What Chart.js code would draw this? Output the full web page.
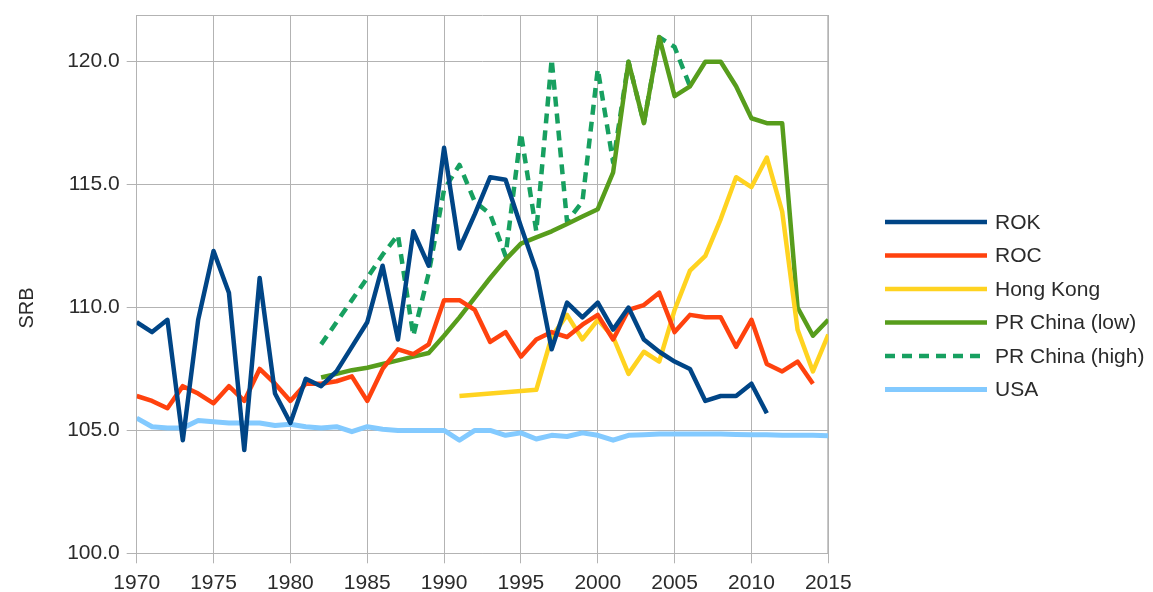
<!DOCTYPE html>
<html lang="en">
<head>
<meta charset="UTF-8">
<title>SRB</title>
<script src="https://cdn.jsdelivr.net/npm/chart.js"></script>
<style>
    body { margin: 0; padding: 0; background: #fff; }
    #wrap { width: 1153px; height: 592px; }
</style>
</head>
<body>
<div id="wrap"><canvas id="srbChart" width="1153" height="592"></canvas></div>
<script>
    const years = [1970, 1971, 1972, 1973, 1974, 1975, 1976, 1977, 1978, 1979,
                   1980, 1981, 1982, 1983, 1984, 1985, 1986, 1987, 1988, 1989,
                   1990, 1991, 1992, 1993, 1994, 1995, 1996, 1997, 1998, 1999,
                   2000, 2001, 2002, 2003, 2004, 2005, 2006, 2007, 2008, 2009,
                   2010, 2011, 2012, 2013, 2014, 2015];

    const rok = [109.4, 109.0, 109.5, 104.6, 109.5, 112.3, 110.6, 104.2, 111.2, 106.5,
                 105.3, 107.1, 106.8, 107.4, 108.4, 109.4, 111.7, 108.7, 113.1, 111.7,
                 116.5, 112.4, 113.8, 115.3, 115.2, 113.3, 111.5, 108.3, 110.2, 109.6,
                 110.2, 109.1, 110.0, 108.7, 108.2, 107.8, 107.5, 106.2, 106.4, 106.4,
                 106.9, 105.7, null, null, null, null];

    const roc = [106.4, 106.2, 105.9, 106.8, 106.5, 106.1, 106.8, 106.2, 107.5, 106.9,
                 106.2, 106.9, 106.9, 107.0, 107.2, 106.2, 107.5, 108.3, 108.1, 108.5,
                 110.3, 110.3, 109.9, 108.6, 109.0, 108.0, 108.7, 109.0, 108.8, 109.3,
                 109.7, 108.7, 109.9, 110.1, 110.6, 109.0, 109.7, 109.6, 109.6, 108.4,
                 109.5, 107.7, 107.4, 107.8, 106.9, null];

    const hongKong = [null, null, null, null, null, null, null, null, null, null,
                      null, null, null, null, null, null, null, null, null, null,
                      null, 106.4, null, null, null, null, 106.65, 108.8, 109.7, 108.7,
                      109.5, 108.8, 107.3, 108.2, 107.8, 109.9, 111.5, 112.1, 113.6, 115.3,
                      114.9, 116.1, 113.9, 109.1, 107.4, 108.9];

    const chinaLow = [null, null, null, null, null, null, null, null, null, null,
                      null, null, 107.15, 107.3, 107.45, 107.55, 107.7, 107.85, 108.0, 108.15,
                      108.85, 109.6, 110.4, 111.2, 111.95, 112.6, 112.85, 113.1, 113.4, 113.7,
                      114.0, 115.5, 120.0, 117.5, 121.0, 118.6, 119.0, 120.0, 120.0, 119.0,
                      117.7, 117.5, 117.5, 110.0, 108.85, 109.5];

    const chinaHigh = [null, null, null, null, null, null, null, null, null, null,
                       null, null, 108.5, 109.4, 110.3, 111.2, 112.15, 112.95, 108.85, 111.4,
                       114.8, 115.8, 114.3, 113.8, 112.1, 117.1, 113.1, 120.1, 113.5, 114.3,
                       119.7, 115.9, 120.0, 117.5, 121.0, 120.6, 119.0, null, null, null,
                       null, null, null, null, null, null];

    const usa = [105.5, 105.15, 105.1, 105.1, 105.4, 105.35, 105.3, 105.3, 105.3, 105.2,
                 105.25, 105.15, 105.1, 105.15, 104.95, 105.15, 105.05, 105.0, 105.0, 105.0,
                 105.0, 104.6, 105.0, 105.0, 104.8, 104.9, 104.65, 104.8, 104.75, 104.9,
                 104.8, 104.6, 104.8, 104.82, 104.85, 104.85, 104.85, 104.85, 104.85, 104.83,
                 104.82, 104.82, 104.8, 104.8, 104.8, 104.78];

    const yTicks = [100, 105, 110, 115, 120];

    const FONT = '"Liberation Sans", Arial, sans-serif';
    const TEXT = '#2b2b2b';
    const GRID = '#b3b3b3';

    const toPoints = arr => arr.map((v, i) => ({ x: years[i], y: v }));

    function series(label, values, color, extra) {
        return Object.assign({
            label: label,
            data: toPoints(values),
            borderColor: color,
            backgroundColor: color,
            borderWidth: 4.5,
            pointRadius: 0,
            pointHoverRadius: 0,
            tension: 0,
            fill: false,
            borderJoinStyle: 'round',
            spanGaps: false
        }, extra || {});
    }

    // legend + axis title + frame, drawn at fixed spots
    const extras = {
        id: 'extras',
        beforeDatasetsDraw(chart) {
            const { ctx, chartArea: a } = chart;
            ctx.save();
            ctx.strokeStyle = GRID;
            ctx.lineWidth = 1;
            ctx.beginPath();
            ctx.moveTo(a.left, a.top + 0.5);
            ctx.lineTo(a.right, a.top + 0.5);
            ctx.moveTo(a.right - 0.5, a.top);
            ctx.lineTo(a.right - 0.5, a.bottom);
            ctx.stroke();
            ctx.restore();
        },
        afterDraw(chart) {
            const ctx = chart.ctx;
            ctx.save();
            ctx.font = '21px ' + FONT;
            ctx.fillStyle = TEXT;
            ctx.textBaseline = 'middle';
            chart.data.datasets.forEach((ds, i) => {
                const y = 222 + i * 33.5;
                ctx.beginPath();
                ctx.strokeStyle = ds.borderColor;
                ctx.lineWidth = ds.borderWidth;
                ctx.setLineDash(ds.borderDash || []);
                ctx.moveTo(885, y);
                ctx.lineTo(987, y);
                ctx.stroke();
                ctx.setLineDash([]);
                ctx.textAlign = 'left';
                ctx.fillText(ds.label, 995, y + 1);
            });
            ctx.translate(27, 308);
            ctx.rotate(-Math.PI / 2);
            ctx.textAlign = 'center';
            ctx.font = '20px ' + FONT;
            ctx.fillText('SRB', 0, 0);
            ctx.restore();
        }
    };

    new Chart(document.getElementById('srbChart'), {
        type: 'line',
        data: {
            datasets: [
                series('ROK', rok, '#004586'),
                series('ROC', roc, '#ff420e'),
                series('Hong Kong', hongKong, '#ffd320', { spanGaps: true }),
                series('PR China (low)', chinaLow, '#579d1c'),
                series('PR China (high)', chinaHigh, '#17a060', { borderDash: [10, 7] }),
                series('USA', usa, '#83caff', { borderWidth: 5 })
            ]
        },
        options: {
            responsive: false,
            animation: false,
            layout: { padding: { left: 0, top: 15, right: 324.7, bottom: 0 } },
            plugins: {
                legend: { display: false },
                tooltip: { enabled: false }
            },
            scales: {
                x: {
                    type: 'linear',
                    min: 1970,
                    max: 2015,
                    afterFit: s => { s.height = 38.7; },
                    ticks: {
                        stepSize: 5,
                        callback: v => String(v),
                        color: TEXT,
                        padding: 7,
                        maxRotation: 0,
                        font: { family: FONT, size: 21 }
                    },
                    grid: { color: GRID, tickColor: GRID, tickLength: 10, lineWidth: 1 },
                    border: { color: GRID }
                },
                y: {
                    min: 100,
                    max: 121.9,
                    afterFit: s => { s.width = 136.7; },
                    afterBuildTicks: s => { s.ticks = yTicks.map(v => ({ value: v })); },
                    ticks: {
                        callback: v => v.toFixed(1),
                        color: TEXT,
                        padding: 7,
                        font: { family: FONT, size: 21, lineHeight: 0.7 }
                    },
                    grid: { color: GRID, tickColor: GRID, tickLength: 10, lineWidth: 1 },
                    border: { color: GRID }
                }
            }
        },
        plugins: [extras]
    });
</script>
</body>
</html>
